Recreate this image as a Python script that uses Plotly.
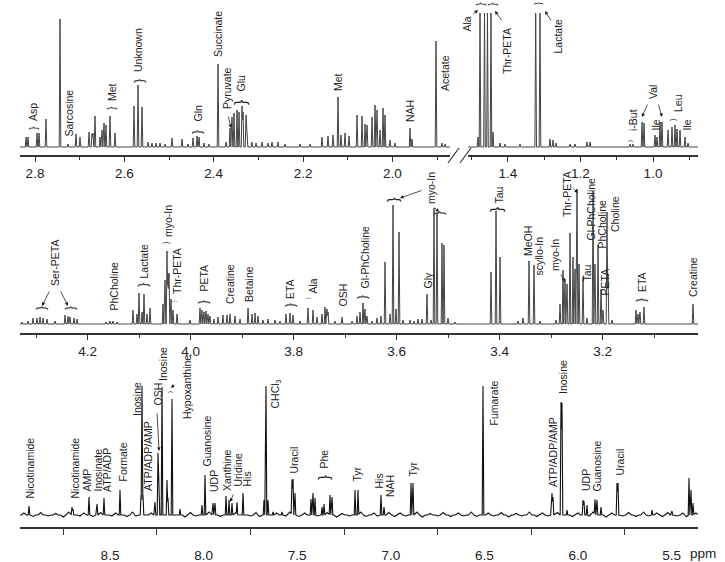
import numpy as np
import plotly.graph_objects as go

W, H = 725, 562

# ---------------- data (ppm, intensity) ----------------
# Panel 1, left segment (2.83 - 1.87 ppm)
p1l_ppm = [2.8201, 2.8157, 2.7955, 2.7910, 2.7754, 2.7440, 2.7261, 2.7082, 2.6993, 2.6791,
           2.6724, 2.6702, 2.6657, 2.6545, 2.6500, 2.6455, 2.6411, 2.6321, 2.6209, 2.5784,
           2.5694, 2.5605, 2.5470, 2.5381, 2.5291, 2.5202, 2.5090, 2.4933, 2.4709, 2.4575,
           2.4463, 2.4373, 2.4329, 2.4217, 2.4105, 2.3903, 2.3724, 2.3635, 2.3590, 2.3545,
           2.3478, 2.3433, 2.3366, 2.3344, 2.3276, 2.3254, 2.3142, 2.3053, 2.2918, 2.2784,
           2.2694, 2.2560, 2.2403, 2.2067, 2.1843, 2.1575, 2.1441, 2.1329, 2.1217, 2.1150,
           2.1060, 2.0971, 2.0791, 2.0679, 2.0612, 2.0567, 2.0455, 2.0388, 2.0343, 2.0276,
           2.0209, 2.0165, 2.0053, 1.9941, 1.9605, 1.9560, 1.9023, 1.8889, 1.8822]
p1l_int = [10, 10, 14, 14, 28, 128, 3, 13, 10, 15,
           13, 14, 31, 10, 17, 24, 22, 31, 14, 41,
           62, 40, 5, 4, 4, 4, 3, 9, 8, 3,
           9, 11, 10, 4, 3, 83, 5, 19, 30, 34,
           37, 35, 41, 35, 32, 22, 5, 4, 5, 4,
           5, 5, 3, 3, 3, 10, 11, 12, 50, 12,
           14, 11, 32, 31, 23, 22, 30, 42, 37, 17,
           39, 32, 7, 4, 19, 8, 106, 4, 3]

# Panel 1, right segment (1.51 - 0.88 ppm)
p1r_ppm = [1.4828, 1.4772, 1.4648, 1.4566, 1.4469, 1.4414, 1.4221, 1.4083, 1.3669, 1.3236,
           1.3117, 1.2841, 1.2759, 1.2676, 1.2290, 1.2152, 1.1821, 1.1738, 1.0634, 1.0552,
           1.0303, 1.0248, 0.9945, 0.9890, 0.9807, 0.9752, 0.9586, 0.9476, 0.9393, 0.9338,
           0.9255, 0.9117, 0.9034]
p1r_int = [10, 134, 134, 134, 134, 15, 4, 3, 3, 134,
           134, 8, 7, 4, 3, 3, 5, 5, 3, 3,
           25, 24, 12, 10, 25, 25, 17, 20, 22, 18,
           17, 10, 4]

# Panel 2 (4.33 - 3.01 ppm)
p2_ppm = [4.3272, 4.3155, 4.3058, 4.2981, 4.2922, 4.2864, 4.2786, 4.2631, 4.2437, 4.2379,
          4.2340, 4.2262, 4.2204, 4.1641, 4.1563, 4.1505, 4.1427, 4.1117, 4.1039, 4.1000,
          4.0942, 4.0903, 4.0845, 4.0786, 4.0534, 4.0495, 4.0456, 4.0437, 4.0417, 4.0379,
          4.0340, 4.0262, 4.0010, 3.9816, 3.9777, 3.9738, 3.9699, 3.9660, 3.9621, 3.9544,
          3.9466, 3.9369, 3.9291, 3.9233, 3.9136, 3.9039, 3.8883, 3.8806, 3.8748, 3.8689,
          3.8592, 3.8495, 3.8359, 3.8262, 3.8146, 3.8068, 3.8010, 3.7874, 3.7718, 3.7621,
          3.7544, 3.7447, 3.7388, 3.7350, 3.7330, 3.7194, 3.7058, 3.6864, 3.6767, 3.6709,
          3.6650, 3.6612, 3.6573, 3.6476, 3.6379, 3.6301, 3.6223, 3.6126, 3.6068, 3.6010,
          3.5951, 3.5874, 3.5738, 3.5660, 3.5583, 3.5505, 3.5408, 3.5330, 3.5272, 3.5214,
          3.5117, 3.5078, 3.5000, 3.4864, 3.4165, 3.4068, 3.3990, 3.3641, 3.3544, 3.3427,
          3.3330, 3.3214, 3.2903, 3.2825, 3.2767, 3.2728, 3.2689, 3.2631, 3.2573, 3.2534,
          3.2495, 3.2456, 3.2379, 3.2301, 3.2184, 3.2146, 3.2087, 3.2029, 3.1990, 3.1913,
          3.1893, 3.1816, 3.1350, 3.1311, 3.1272, 3.1195, 3.0243]
p2_int = [2, 3, 6, 6, 7, 6, 5, 3, 9, 8,
          7, 6, 5, 2, 3, 3, 2, 14, 10, 31,
          12, 30, 10, 16, 20, 44, 73, 50, 51, 25,
          14, 10, 4, 16, 14, 12, 13, 10, 8, 5,
          7, 9, 9, 10, 8, 5, 16, 10, 11, 8,
          4, 5, 4, 3, 10, 11, 9, 3, 16, 14,
          7, 10, 17, 15, 12, 3, 7, 3, 8, 12,
          21, 15, 8, 3, 6, 8, 62, 10, 119, 15,
          92, 4, 4, 3, 5, 5, 30, 4, 116, 111,
          81, 79, 6, 2, 52, 113, 67, 3, 6, 63,
          59, 3, 4, 20, 54, 45, 40, 91, 67, 55,
          135, 60, 47, 6, 133, 60, 79, 35, 14, 112,
          50, 4, 14, 10, 12, 17, 20]

# Panel 3 (8.98 - 5.36 ppm)
p3_ppm = [8.9327, 8.7030, 8.6976, 8.6122, 8.5694, 8.5321, 8.4466, 8.3344, 8.3291, 8.3237,
          8.2596, 8.2436, 8.2382, 8.2222, 8.1955, 8.1902, 8.1688, 8.1261, 8.0085, 7.9925,
          7.9498, 7.9391, 7.8803, 7.8643, 7.8483, 7.8216, 7.7895, 7.6774, 7.6667, 7.6560,
          7.6293, 7.5812, 7.5278, 7.5224, 7.5118, 7.4263, 7.4156, 7.4049, 7.3675, 7.3568,
          7.3248, 7.3141, 7.1912, 7.1752, 7.0524, 7.0363, 6.8921, 6.8814, 6.5075, 6.1389,
          6.1335, 6.0908, 6.0855, 6.0588, 5.9733, 5.9679, 5.9519, 5.9092, 5.8985, 5.8771,
          5.7917, 5.7863, 5.6047, 5.4979, 5.4071, 5.3964, 5.3857]
p3_int = [9, 8, 6, 18, 11, 17, 25, 20, 129, 20,
          13, 62, 40, 128, 35, 17, 116, 6, 10, 40,
          12, 12, 19, 15, 12, 12, 22, 15, 129, 15,
          3, 3, 35, 36, 22, 16, 22, 17, 8, 11,
          20, 18, 25, 25, 20, 8, 32, 32, 129, 22,
          18, 113, 112, 5, 15, 14, 10, 15, 15, 8,
          32, 32, 5, 4, 37, 25, 12]

# Panel 3 baseline noise
p3_noise_ppm = [8.96, 8.91, 8.87, 8.83, 8.79, 8.75, 8.72, 8.66, 8.64, 8.59,
                8.55, 8.49, 8.47, 8.41, 8.38, 8.36, 8.28, 8.10, 8.07, 8.04,
                7.97, 7.91, 7.83, 7.75, 7.72, 7.70, 7.61, 7.56, 7.54, 7.49,
                7.46, 7.39, 7.34, 7.29, 7.26, 7.22, 7.16, 7.13, 7.09, 7.07,
                7.01, 6.98, 6.95, 6.92, 6.86, 6.83, 6.79, 6.75, 6.72, 6.68,
                6.64, 6.61, 6.57, 6.54, 6.48, 6.45, 6.41, 6.37, 6.33, 6.30,
                6.26, 6.22, 6.19, 6.16, 6.11, 6.03, 6.00, 5.94, 5.92, 5.85,
                5.82, 5.76, 5.73, 5.69, 5.65, 5.62, 5.58, 5.55, 5.52, 5.47,
                5.44, 5.42, 5.37]
p3_noise_int = [2, -1.5, 2.5, -1, 1.5, -2, 3, -1, 2, -1.5,
                2.5, -1, 2, -1.5, 3, -1, 2, -2, 2.5, -1,
                3, -1.5, 2, -1, 2.5, -1.5, 2, -1, 3, -1.5,
                2, -1, 2.5, -2, 1.5, -1, 3, -1.5, 2, -1,
                2.5, -1.5, 2, -1, 3, -2, 1.5, -1, 2.5, -1.5,
                2, -1, 3, -1.5, 2, -1, 2.5, -2, 1.5, -1,
                3, -1.5, 2, -1, 2.5, -1.5, 2, -1, 3, -2,
                2, -1, 2.5, -1.5, 3, -1, 2, -1.5, 2.5, -1,
                2, -1.5, 2]

# tick labels
p1l_ticks = [2.8, 2.6, 2.4, 2.2, 2.0]
p1l_ticktext = ["2.8", "2.6", "2.4", "2.2", "2.0"]
p1l_minor = [2.7, 2.5, 2.3, 2.1, 1.9]
p1r_ticks = [1.4, 1.2, 1.0]
p1r_ticktext = ["1.4", "1.2", "1.0"]
p1r_minor = [1.5, 1.3, 1.1, 0.9]
p2_ticks = [4.2, 4.0, 3.8, 3.6, 3.4, 3.2]
p2_ticktext = ["4.2", "4.0", "3.8", "3.6", "3.4", "3.2"]
p2_minor = [4.3, 4.1, 3.9, 3.7, 3.5, 3.3, 3.1]
p3_ticks = [8.5, 8.0, 7.5, 7.0, 6.5, 6.0, 5.5]
p3_ticktext = ["8.5", "8.0", "7.5", "7.0", "6.5", "6.0", "5.5"]
p3_minor = [8.75, 8.25, 7.75, 7.25, 6.75, 6.25, 5.75]

# metabolite labels: (text, ppm, intensity at label base)
p1l_labels = [("Asp", 2.8045, 25), ("Sarcosine", 2.7261, 9), ("Met", 2.6276, 45),
              ("Unknown", 2.5694, 74), ("Gln", 2.4373, 24), ("Succinate", 2.3903, 89),
              ("Pyruvate", 2.3702, 37), ("Glu", 2.3411, 54), ("Met", 2.1217, 55),
              ("NAH", 1.9605, 24), ("Acetate", 1.8822, 55)]
p1r_labels = [("Thr-PETA", 1.4028, 72), ("Lactate", 1.2648, 92), ("i-But", 1.0552, 15),
              ("Val", 1.0000, 47), ("Ile", 0.9945, 15), ("Leu", 0.9310, 34), ("Ile", 0.9090, 15)]
p2_labels = [("Ser-PETA", 4.2631, 37), ("PhCholine", 4.1505, 12), ("Lactate", 4.0922, 44),
             ("myo-In", 4.0437, 86), ("Thr-PETA", 4.0262, 29), ("PETA", 3.9757, 31),
             ("Creatine", 3.9233, 19), ("Betaine", 3.8864, 21), ("ETA", 3.8068, 24),
             ("Ala", 3.7641, 29), ("OSH", 3.7058, 16), ("Gl-PhCholine", 3.6631, 34),
             ("myo-In", 3.5330, 119), ("Gly", 3.5408, 34), ("Tau", 3.4029, 119),
             ("MeOH", 3.3447, 67), ("scyllo-In", 3.3252, 47), ("myo-In", 3.2922, 52),
             ("Thr-PETA", 3.2689, 106), ("Tau", 3.2320, 41), ("Gl-PhCholine", 3.2243, 82),
             ("PhCholine", 3.2029, 74), ("PETA", 3.1971, 27), ("Choline", 3.1757, 91),
             ("ETA", 3.1233, 31), ("Creatine", 3.0243, 26)]
p3_labels = [("Nicotinamide", 8.9327, 15), ("Nicotinamide", 8.6923, 15), ("AMP", 8.6282, 22),
             ("Inosinate", 8.5694, 22), ("ATP/ADP", 8.5160, 22), ("Formate", 8.4359, 32),
             ("Inosine", 8.3558, 98), ("ATP/ADP/AMP", 8.2970, 23), ("OSH", 8.2489, 108),
             ("Inosine", 8.2169, 133), ("Hypoxanthine", 8.0887, 95), ("Guanosine", 7.9872, 47),
             ("UDP", 7.9444, 22), ("Xanthine", 7.8750, 23), ("Uridine", 7.8216, 27),
             ("His", 7.7735, 27), ("CHCl<sub>3</sub>", 7.6186, 105), ("Uracil", 7.5224, 40),
             ("Phe", 7.3622, 45), ("Tyr", 7.1859, 32), ("His", 7.0684, 25), ("NAH", 7.0043, 17),
             ("Tyr", 6.8868, 37), ("Fumarate", 6.4541, 88), ("ATP/ADP/AMP", 6.1335, 27),
             ("Inosine", 6.0801, 120), ("UDP", 5.9573, 23), ("Guanosine", 5.9038, 22),
             ("Uracil", 5.7810, 38)]

# braces: (ppm, intensity, size)
p1l_braces = [(2.8045, 19, 11), (2.6298, 39, 11), (2.5694, 66, 13), (2.4373, 15, 12), (2.3411, 45, 16)]
p1r_braces = [(1.4772, 143, 11), (1.4441, 143, 11), (1.3172, 143, 9), (1.0634, 6, 6), (0.9448, 27, 7)]
p2_braces = [(4.2903, 16, 12), (4.2340, 16, 12), (4.0942, 39, 13), (4.0476, 81, 7), (4.0320, 23, 5),
             (3.9757, 22, 12), (3.8068, 19, 12), (3.7718, 26, 5), (3.6670, 27, 12),
             (3.6068, 124, 14), (3.5175, 111, 12), (3.4068, 115, 16), (3.1252, 24, 12)]
p3_braces = [(8.1795, 123, 6), (7.3622, 37, 15)]

# arrows: (tail ppm, tail int, head ppm, head int)
p1l_arrows = [(2.3679, 32, 2.3612, 19)]
p1r_arrows = [(1.4993, 132, 1.4828, 137), (1.4138, 125, 1.4359, 136), (1.2786, 125, 1.2979, 136),
              (1.0138, 44, 1.0303, 30), (0.9862, 44, 0.9752, 30)]
p2_arrows = [(4.2728, 34, 4.2883, 18), (4.2534, 34, 4.2379, 18), (3.5485, 134, 3.5932, 126),
             (3.5291, 118, 3.5175, 112), (3.2825, 51, 3.2728, 42), (3.2592, 137, 3.2476, 131)]
p3_arrows = [(8.2489, 103, 8.2382, 64), (8.1474, 132, 8.1741, 127), (7.8376, 22, 7.8590, 13)]


# ---------------- helpers ----------------
def spectrum(groups, lo, hi):
    verts = [np.array([lo, hi])]
    for ppm, inten, half in groups:
        p = np.asarray(ppm, float)
        verts += [p - half, p, p + half]
    v = np.unique(np.concatenate(verts))
    v = v[(v >= lo) & (v <= hi)]
    y = np.zeros_like(v)
    for ppm, inten, half in groups:
        for p, h in zip(ppm, inten):
            y += h * np.clip(1 - np.abs(v - p) / half, 0, None)
    return v, y


LABEL_FONT = dict(family="Liberation Sans, Arial, sans-serif", size=10.5, color="#1e1e1e")
TICK_FONT = dict(family="Liberation Sans, Arial, sans-serif", size=13.5, color="#222")
LINE_COL = "#333"

fig = go.Figure()

x1, y1 = spectrum([(p1l_ppm, p1l_int, 0.0018)], 1.871, 2.8336)
x2, y2 = spectrum([(p1r_ppm, p1r_int, 0.0022)], 0.8759, 1.5103)
x3, y3 = spectrum([(p2_ppm, p2_int, 0.00155)], 3.0146, 4.3311)
x4, y4 = spectrum([(p3_ppm, p3_int, 0.0043), (p3_noise_ppm, p3_noise_int, 0.014)], 5.3590, 8.9808)

fig.add_trace(go.Scatter(x=x1, y=y1, mode="lines", xaxis="x", yaxis="y",
                         line=dict(color="#444", width=1), hoverinfo="skip"))
fig.add_trace(go.Scatter(x=x2, y=y2, mode="lines", xaxis="x2", yaxis="y",
                         line=dict(color="#444", width=1), hoverinfo="skip"))
fig.add_trace(go.Scatter(x=x3, y=y3, mode="lines", xaxis="x3", yaxis="y2",
                         line=dict(color="#444", width=1), hoverinfo="skip"))
fig.add_trace(go.Scatter(x=x4, y=y4, mode="lines", xaxis="x4", yaxis="y3",
                         line=dict(color="#111", width=1.1), hoverinfo="skip"))

ann = []


def add_labels(labels, xref, yref):
    for t, p, h in labels:
        ann.append(dict(text=t, x=p, y=h, xref=xref, yref=yref, textangle=-90,
                        xanchor="center", yanchor="bottom", showarrow=False,
                        font=LABEL_FONT, borderpad=0))


def add_braces(braces, xref, yref):
    for p, h, s in braces:
        ann.append(dict(text="}", x=p, y=h, xref=xref, yref=yref, textangle=-90,
                        xanchor="center", yanchor="middle", showarrow=False,
                        font=dict(family="Liberation Sans, Arial, sans-serif", size=s, color="#222"),
                        borderpad=0))


def add_arrows(arrows, xref, yref):
    for tp, th, hp, hh in arrows:
        ann.append(dict(text="", x=hp, y=hh, ax=tp, ay=th, xref=xref, yref=yref,
                        axref=xref, ayref=yref, showarrow=True, arrowhead=2,
                        arrowsize=0.9, arrowwidth=0.8, arrowcolor="#222", standoff=0,
                        startstandoff=0))


add_labels(p1l_labels, "x", "y")
add_labels(p1r_labels, "x2", "y")
add_labels(p2_labels, "x3", "y2")
add_labels(p3_labels, "x4", "y3")
add_braces(p1l_braces, "x", "y")
add_braces(p1r_braces, "x2", "y")
add_braces(p2_braces, "x3", "y2")
add_braces(p3_braces, "x4", "y3")
add_arrows(p1l_arrows, "x", "y")
add_arrows(p1r_arrows, "x2", "y")
add_arrows(p2_arrows, "x3", "y2")
add_arrows(p3_arrows, "x4", "y3")

# "Ala" label sits left of the right-hand axis segment
ann.append(dict(text="Ala", x=466 / W, y=114, xref="paper", yref="y", textangle=-90,
                xanchor="center", yanchor="bottom", showarrow=False, font=LABEL_FONT, borderpad=0))
ann.append(dict(text="ppm", x=688 / W, y=1 - 553 / H, xref="paper", yref="paper",
                xanchor="left", yanchor="middle", showarrow=False,
                font=dict(family="Liberation Sans, Arial, sans-serif", size=13.5, color="#222")))

# axis break marks
shapes = []
for xa, xb in [(448, 459), (460, 471)]:
    shapes.append(dict(type="line", xref="paper", yref="paper",
                       x0=xa / W, y0=1 - 163 / H, x1=xb / W, y1=1 - 148 / H,
                       line=dict(color=LINE_COL, width=1.2)))


def xaxis(dom, rng, anchor, tv, tt, minor_vals, major_len=5, minor_len=3,
          major_col=LINE_COL, standoff=0):
    return dict(domain=[dom[0] / W, dom[1] / W], range=rng, anchor=anchor,
                showline=True, linecolor=LINE_COL, linewidth=1.5,
                showgrid=False, zeroline=False,
                tickmode="array", tickvals=tv, ticktext=tt,
                ticks="outside", ticklen=major_len, tickwidth=1.2, tickcolor=major_col,
                tickfont=TICK_FONT, ticklabelstandoff=standoff,
                minor=dict(tickmode="array", tickvals=minor_vals, ticks="outside",
                           ticklen=minor_len, tickwidth=1.2, tickcolor=LINE_COL, showgrid=False),
                fixedrange=True)


def yaxis(top_px, bot_px, rng, anchor):
    return dict(domain=[1 - bot_px / H, 1 - top_px / H], range=rng, anchor=anchor,
                visible=False, fixedrange=True)


fig.update_layout(
    width=W, height=H, margin=dict(l=0, r=0, t=0, b=0),
    paper_bgcolor="white", plot_bgcolor="white", showlegend=False,
    xaxis=xaxis((20, 450), [2.8336, 1.871], "y", p1l_ticks, p1l_ticktext, p1l_minor),
    xaxis2=xaxis((468, 698), [1.5103, 0.8759], "y", p1r_ticks, p1r_ticktext, p1r_minor),
    xaxis3=xaxis((20, 698), [4.3311, 3.0146], "y2", p2_ticks, p2_ticktext, p2_minor),
    xaxis4=xaxis((20, 698), [8.9808, 5.3590], "y3", p3_ticks, p3_ticktext, p3_minor,
                 major_len=6, minor_len=6, major_col="rgba(0,0,0,0)", standoff=9),
    yaxis=yaxis(0, 155, [-8, 147], "x"),
    yaxis2=yaxis(185, 333, [-9, 139], "x3"),
    yaxis3=yaxis(375, 527, [-12, 140], "x4"),
    annotations=ann, shapes=shapes,
)

fig.write_html("out.html", config={"displayModeBar": False},
               post_script="document.body.style.margin='0px';")
